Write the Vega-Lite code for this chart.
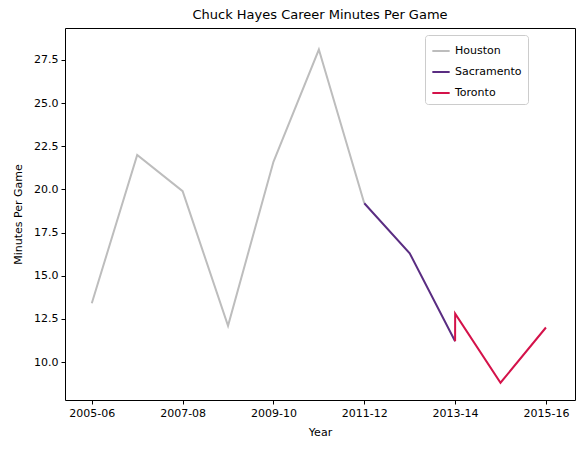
{
  "$schema": "https://vega.github.io/schema/vega-lite/v6.json",
  "autosize": {"type": "none"},
  "width": 510,
  "height": 372,
  "padding": {"left": 65, "top": 28, "right": 7, "bottom": 53},
  "background": "white",
  "title": {"text": "Chuck Hayes Career Minutes Per Game", "font": "DejaVu Sans", "fontSize": 13, "fontWeight": "normal", "color": "black", "offset": 6},
  "config": {
    "font": "DejaVu Sans",
    "view": {"stroke": "black", "strokeWidth": 1},
    "axis": {"grid": false, "domain": false, "tickColor": "black", "labelColor": "black", "labelFontSize": 11, "titleFontSize": 11, "titleFontWeight": "normal", "titleColor": "black", "tickSize": 4, "labelPadding": 3, "titlePadding": 8}
  },
  "data": {
    "values": [
      {"year": 2005, "team": "Houston", "mpg": 13.4},
      {"year": 2006, "team": "Houston", "mpg": 22.0},
      {"year": 2007, "team": "Houston", "mpg": 19.9},
      {"year": 2008, "team": "Houston", "mpg": 12.1},
      {"year": 2009, "team": "Houston", "mpg": 21.6},
      {"year": 2010, "team": "Houston", "mpg": 28.1},
      {"year": 2011, "team": "Houston", "mpg": 19.2},
      {"year": 2011, "team": "Sacramento", "mpg": 19.2},
      {"year": 2012, "team": "Sacramento", "mpg": 16.3},
      {"year": 2013, "team": "Sacramento", "mpg": 11.2},
      {"year": 2013, "team": "Toronto", "mpg": 11.2},
      {"year": 2013.001, "team": "Toronto", "mpg": 12.8},
      {"year": 2014, "team": "Toronto", "mpg": 8.8},
      {"year": 2015, "team": "Toronto", "mpg": 12.0}
    ]
  },
  "mark": {"type": "line", "strokeWidth": 2, "clip": true},
  "encoding": {
    "x": {"field": "year", "type": "quantitative", "title": "Year",
      "scale": {"domain": [2004.41, 2015.64], "nice": false, "zero": false},
      "axis": {"values": [2005, 2007, 2009, 2011, 2013, 2015], "labelExpr": "datum.value + '-' + format((datum.value + 1) % 100, '02d')"}},
    "y": {"field": "mpg", "type": "quantitative", "title": "Minutes Per Game",
      "scale": {"domain": [7.8, 29.35], "nice": false, "zero": false},
      "axis": {"values": [10, 12.5, 15, 17.5, 20, 22.5, 25, 27.5], "format": ".1f", "titlePadding": 10}},
    "order": {"field": "year"},
    "color": {"field": "team", "type": "nominal",
      "scale": {"domain": ["Houston", "Sacramento", "Toronto"], "range": ["#bdbdbd", "#5a2d82", "#d4124a"]},
      "legend": {"title": null, "orient": "none", "legendX": 360, "legendY": 7, "symbolType": "stroke", "symbolStrokeWidth": 2, "symbolSize": 300, "labelFontSize": 11, "labelColor": "black", "strokeColor": "#cccccc", "fillColor": "white", "padding": 6, "cornerRadius": 3, "rowPadding": 6}}
  }
}
